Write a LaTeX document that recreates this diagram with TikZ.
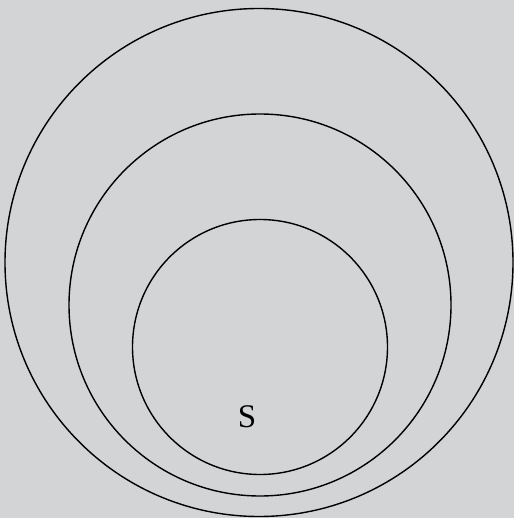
\documentclass[tikz,border=0pt]{standalone}
\usepackage{fontspec}
\setmainfont{Liberation Serif}
\definecolor{bg}{HTML}{D3D4D6}
\begin{document}
\begin{tikzpicture}[x=1pt,y=-1pt,
  ring/.style={draw=black,line width=1.4pt}]
\fill[bg] (0,0) rectangle (514,518);
\useasboundingbox (0,0) rectangle (514,518);
\node[ring,circle,minimum size=508pt,inner sep=0pt] (outer) at (259,262.5) {};
\node[ring,circle,minimum size=382pt,inner sep=0pt] (middle) at (260,305) {};
\node[ring,circle,minimum size=255pt,inner sep=0pt] (inner) at (260,347) {};
\node[font=\fontsize{33}{33}\selectfont,inner sep=0pt] (s) at (247,416.5) {S};
\end{tikzpicture}
\end{document}
